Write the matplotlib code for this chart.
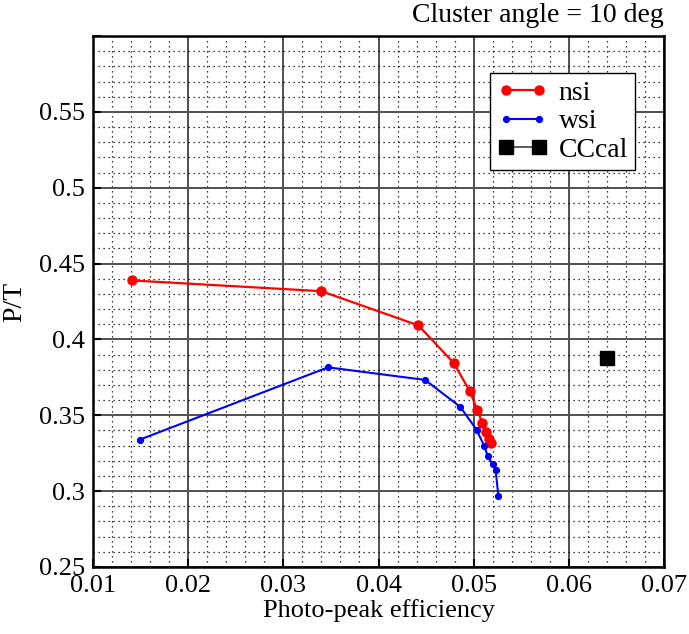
import matplotlib
matplotlib.use("Agg")
import matplotlib.pyplot as plt
from matplotlib.ticker import MultipleLocator, FixedLocator, FixedFormatter

plt.rcParams['font.family'] = ['Liberation Serif', 'DejaVu Serif']

nsi_x = [0.0141, 0.0340, 0.0442, 0.0479, 0.0496, 0.0504, 0.0509, 0.0513, 0.0516, 0.0518]
nsi_y = [0.4389, 0.4318, 0.4092, 0.3845, 0.3658, 0.3532, 0.3451, 0.3390, 0.3345, 0.3317]
wsi_x = [0.0149, 0.0347, 0.0449, 0.0486, 0.0503, 0.0511, 0.0515, 0.0520, 0.0523, 0.0526]
wsi_y = [0.3339, 0.3816, 0.3733, 0.3555, 0.3405, 0.3299, 0.3229, 0.3176, 0.3141, 0.2967]
cc_x = [0.0640]
cc_y = [0.388]

xticks = [0.01, 0.02, 0.03, 0.04, 0.05, 0.06, 0.07]
xticklabels = ['0.01', '0.02', '0.03', '0.04', '0.05', '0.06', '0.07']
yticks = [0.25, 0.3, 0.35, 0.4, 0.45, 0.5, 0.55]
yticklabels = ['0.25', '0.3', '0.35', '0.4', '0.45', '0.5', '0.55']

fig = plt.figure(figsize=(6.89, 6.34), dpi=100)
ax = fig.add_axes([0.135, 0.1057, 0.8287, 0.8375])

ax.plot(nsi_x, nsi_y, color='#ff0000', lw=1.6, marker='o', ms=6.5, label='nsi', zorder=5)
ax.plot(wsi_x, wsi_y, color='#0000ff', lw=1.5, marker='o', ms=4.2, label='wsi', zorder=5)
ax.plot(cc_x, cc_y, color='#404040', lw=1.2, marker='s', ms=10, mfc='black', mec='black',
        label='CCcal', zorder=5)

ax.set_xlim(0.01, 0.07)
ax.set_ylim(0.25, 0.6)
ax.xaxis.set_major_locator(FixedLocator(xticks))
ax.xaxis.set_major_formatter(FixedFormatter(xticklabels))
ax.yaxis.set_major_locator(FixedLocator(yticks + [0.6]))
ax.yaxis.set_major_formatter(FixedFormatter(yticklabels + ['']))
ax.xaxis.set_minor_locator(MultipleLocator(0.002))
ax.yaxis.set_minor_locator(MultipleLocator(0.01))

ax.grid(which='major', color='#505050', lw=1.4, ls='-')
ax.grid(which='minor', color='black', lw=0.9, ls=(0, (1, 3)))
ax.set_axisbelow(True)

ax.tick_params(which='major', direction='in', length=6, width=1.5, labelsize=19, pad=6)
ax.tick_params(which='minor', length=0)
for s in ax.spines.values():
    s.set_linewidth(1.8)

ax.set_xlabel('Photo-peak efficiency', fontsize=19, labelpad=1)
ax.set_ylabel('P/T', fontsize=20, labelpad=8)
fig.text(0.963, 0.975, 'Cluster angle = 10 deg', ha='right', va='center', fontsize=20)

leg = ax.legend(loc='upper right', bbox_to_anchor=(0.949, 0.93), numpoints=2, fontsize=20,
                fancybox=False, framealpha=1, edgecolor='black', borderpad=0.25,
                labelspacing=0.12, handlelength=1.8, handletextpad=0.4, borderaxespad=0)
leg.get_frame().set_linewidth(1.0)

fig.savefig('out.png', dpi=100)
